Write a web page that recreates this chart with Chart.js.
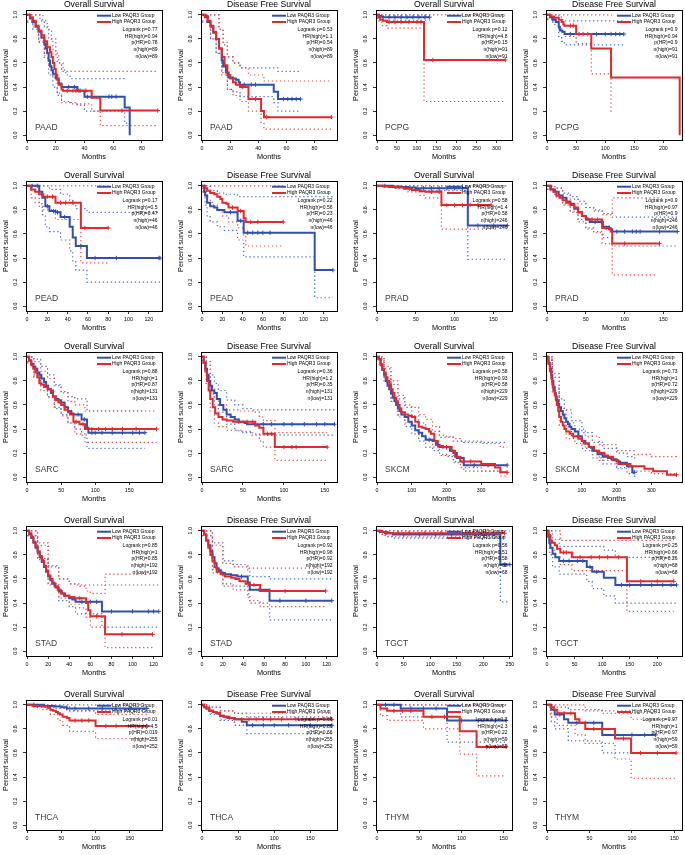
<!DOCTYPE html>
<html><head><meta charset="utf-8">
<script src="https://cdn.jsdelivr.net/npm/chart.js@4.4.1/dist/chart.umd.min.js"></script>
<style>
body{margin:0;width:685px;height:855px;overflow:hidden;background:#fff;position:relative}
canvas{position:absolute}
</style>
</head><body>
<script>
// ---------- data ----------
const CANCERS = ['PAAD','PAAD','PCPG','PCPG','PEAD','PEAD','PRAD','PRAD','SARC','SARC','SKCM','SKCM','STAD','STAD','TGCT','TGCT','THCA','THCA','THYM','THYM'];
const TITLES = ['Overall Survival','Disease Free Survival'];
const LEGEND_LABELS = ['Low PAQR3 Group','High PAQR3 Group'];
const X_MAX  = [94,96,339,232,133,133,174,174,198,165,389,388,128,130,254,245,197,187,160,159];
const X_STEP = [20,20,50,50,20,20,50,50,50,50,100,100,20,20,50,50,50,50,50,50];
const LOGRANK_P = ['0.77','0.53','0.12','0.9','0.17','0.22','0.58','0.9','0.88','0.36','0.58','0.73','0.85','0.92','0.56','0.25','0.01','0.66','0.2','0.97'];
const HR_HIGH   = ['0.94','1.1','4.8','0.94','0.5','0.56','1.4','0.97','1','1.2','0.93','1','1','0.98','0.51','0.66','4.5','0.86','2.3','1'];
const P_HR      = ['0.78','0.54','0.15','0.9','0.47','0.23','0.58','0.9','0.87','0.35','0.58','0.72','0.85','0.92','0.58','0.26','0.019','0.66','0.22','0.97'];
const N_HIGH    = [89,89,91,91,46,46,246,246,131,131,229,229,192,192,68,68,255,255,59,59];
const N_LOW     = [89,89,91,91,46,46,246,246,131,131,229,229,192,192,68,68,252,252,59,59];

// Kaplan-Meier curves: [months, survival]; repeated survival value = censored mark
const PAAD_OS = {
 low:[[0,1],[2,0.97],[4,0.94],[6,0.9],[8,0.86],[10,0.81],[12,0.76],[13,0.72],[14,0.68],[15,0.62],[16,0.57],[17,0.54],[18,0.51],[20,0.47],[22,0.43],[24,0.4],[29,0.4],[33,0.4],[35,0.37],[37,0.37],[40,0.32],[42,0.32],[45,0.32],[57,0.32],[59,0.32],[62,0.32],[68,0.23],[71.5,0]],
 high:[[0,1],[2,0.98],[4,0.95],[6,0.91],[8,0.87],[10,0.83],[12,0.78],[14,0.73],[16,0.69],[17,0.65],[18,0.6],[19,0.55],[20,0.5],[21,0.46],[22,0.42],[24,0.38],[25,0.37],[28,0.37],[32,0.37],[34,0.37],[36,0.37],[41,0.37],[45,0.31],[51,0.205],[66,0.205],[91,0.205]],
 lowUp:[[0,1],[6,1],[9,0.95],[12,0.9],[15,0.8],[18,0.7],[21,0.6],[24,0.54],[27,0.5],[30,0.47],[68,0.47]],
 lowDn:[[0,0.94],[4,0.88],[8,0.77],[12,0.64],[15,0.5],[18,0.4],[21,0.33],[24,0.28],[30,0.27],[35,0.25],[40,0.2],[68,0.1],[71.5,0.1]],
 highUp:[[0,1],[8,1],[11,0.95],[14,0.88],[17,0.8],[20,0.67],[22,0.6],[25,0.53],[91,0.53]],
 highDn:[[0,0.95],[4,0.9],[8,0.78],[12,0.66],[15,0.58],[18,0.48],[21,0.35],[24,0.27],[30,0.26],[45,0.2],[51,0.08],[91,0.08]]
};
const PAAD_DFS = {
 low:[[0,1],[2,0.98],[4,0.94],[6,0.9],[8,0.85],[10,0.8],[12,0.72],[14,0.62],[15,0.57],[17,0.52],[19,0.48],[22,0.47],[24,0.46],[26,0.44],[27,0.42],[30,0.42],[35,0.42],[38,0.42],[51,0.36],[54,0.3],[58,0.3],[61,0.3],[64,0.3],[67,0.3],[70,0.3]],
 high:[[0,1],[2,0.99],[4,0.95],[6,0.91],[8,0.86],[10,0.8],[12,0.72],[14,0.65],[16,0.58],[18,0.5],[20,0.47],[22,0.44],[24,0.42],[27,0.4],[29,0.4],[33,0.3],[38,0.3],[42,0.2],[44,0.15],[46,0.15],[92,0.15]],
 lowUp:[[0,1],[8,1],[12,0.88],[15,0.75],[18,0.65],[22,0.6],[27,0.56],[51,0.56],[54,0.53],[70,0.53]],
 lowDn:[[0,0.94],[6,0.8],[10,0.68],[14,0.5],[18,0.38],[22,0.36],[27,0.32],[51,0.27],[54,0.2],[70,0.2]],
 highUp:[[0,1],[8,1],[12,0.88],[15,0.77],[18,0.65],[22,0.6],[27,0.56],[33,0.5],[44,0.45],[92,0.45]],
 highDn:[[0,0.95],[6,0.8],[10,0.68],[14,0.52],[18,0.38],[22,0.33],[27,0.28],[33,0.2],[42,0.1],[44,0.05],[92,0.05]]
};
const PCPG_OS = {
 low:[[0,1],[5,0.99],[10,0.985],[15,0.98],[30,0.98],[45,0.98],[60,0.98],[75,0.98],[90,0.98],[105,0.98],[120,0.98],[132,0.98]],
 high:[[0,1],[3,0.98],[8,0.96],[15,0.95],[25,0.94],[30,0.94],[45,0.94],[60,0.94],[80,0.94],[100,0.94],[110,0.94],[118,0.625],[140,0.625],[322,0.625]],
 lowUp:[[0,1],[132,1]],
 lowDn:[[0,0.99],[8,0.97],[15,0.955],[132,0.955]],
 highUp:[[0,1],[322,1]],
 highDn:[[0,0.97],[5,0.94],[12,0.91],[25,0.89],[118,0.28],[322,0.28]]
};
const PCPG_DFS = {
 low:[[0,1],[5,0.98],[10,0.96],[15,0.94],[20,0.9],[22,0.87],[26,0.86],[30,0.84],[40,0.84],[55,0.84],[70,0.84],[85,0.84],[100,0.84],[110,0.84],[118,0.84],[125,0.84],[132,0.84]],
 high:[[0,1],[5,0.985],[12,0.975],[20,0.96],[25,0.94],[28,0.92],[30,0.91],[40,0.91],[45,0.91],[50,0.84],[62,0.84],[76,0.72],[110,0.48],[228,0]],
 lowUp:[[0,1],[10,1],[20,0.98],[25,0.96],[30,0.95],[132,0.95]],
 lowDn:[[0,0.96],[10,0.92],[20,0.82],[25,0.78],[30,0.75],[132,0.75]],
 highUp:[[0,1],[112,1]],
 highDn:[[0,0.97],[10,0.94],[20,0.9],[25,0.86],[30,0.82],[50,0.76],[76,0.51],[110,0.2],[112,0.2]]
};
const PEAD_OS = {
 low:[[0,1],[5,1],[10,1],[12,0.95],[15,0.9],[18,0.83],[20,0.83],[22,0.79],[26,0.79],[28,0.78],[30,0.78],[33,0.74],[37,0.74],[42,0.66],[45,0.57],[48,0.5],[53,0.5],[59,0.4],[67,0.4],[88,0.4],[130,0.4],[131,0.4]],
 high:[[0,1],[4,0.97],[8,0.95],[12,0.93],[16,0.91],[20,0.91],[25,0.91],[28,0.86],[33,0.86],[38,0.86],[45,0.86],[53,0.65],[57,0.65],[80,0.65]],
 lowUp:[[0,1],[18,1],[22,0.97],[33,0.93],[42,0.88],[45,0.85],[48,0.81],[59,0.78],[131,0.78]],
 lowDn:[[0,1],[12,0.85],[15,0.76],[18,0.66],[22,0.62],[33,0.55],[42,0.46],[45,0.37],[48,0.3],[59,0.2],[131,0.2]],
 highUp:[[0,1],[80,1]],
 highDn:[[0,1],[4,0.9],[8,0.86],[12,0.83],[16,0.8],[28,0.72],[53,0.36],[80,0.36]]
};
const PEAD_DFS = {
 low:[[0,1],[2,0.95],[3,0.92],[5,0.86],[8,0.83],[12,0.82],[15,0.8],[22,0.78],[28,0.78],[35,0.71],[38,0.71],[41,0.61],[45,0.61],[50,0.61],[55,0.61],[60,0.61],[67,0.61],[111,0.3],[129,0.3]],
 high:[[0,1],[3,0.98],[5,0.96],[8,0.94],[12,0.93],[15,0.91],[18,0.89],[20,0.86],[24,0.85],[26,0.82],[30,0.82],[35,0.79],[38,0.79],[41,0.73],[43,0.7],[48,0.7],[55,0.7],[80,0.7]],
 lowUp:[[0,1],[5,1],[8,0.96],[15,0.94],[22,0.93],[35,0.91],[129,0.91]],
 lowDn:[[0,0.98],[3,0.84],[5,0.75],[8,0.7],[15,0.66],[22,0.63],[35,0.55],[41,0.41],[111,0.07],[129,0.07]],
 highUp:[[0,1],[80,1]],
 highDn:[[0,0.95],[5,0.88],[10,0.84],[15,0.8],[20,0.75],[26,0.7],[35,0.65],[41,0.58],[43,0.5],[80,0.5]]
};
const PRAD_OS = {
 low:[[0,1],[10,1],[20,0.995],[30,0.99],[40,0.985],[50,0.98],[60,0.98],[70,0.98],[80,0.98],[90,0.98],[100,0.98],[110,0.98],[117,0.67],[130,0.67],[150,0.67],[168,0.67]],
 high:[[0,1],[8,0.995],[15,0.99],[25,0.985],[35,0.975],[45,0.965],[55,0.955],[62,0.95],[70,0.95],[80,0.95],[83,0.84],[90,0.84],[100,0.84],[110,0.84],[120,0.84],[130,0.84],[147,0.84]],
 lowUp:[[0,1],[168,1]],
 lowDn:[[0,1],[20,0.98],[40,0.965],[60,0.96],[117,0.39],[168,0.39]],
 highUp:[[0,1],[147,1]],
 highDn:[[0,1],[20,0.98],[40,0.95],[55,0.92],[62,0.9],[83,0.64],[147,0.64]]
};
const PRAD_DFS = {
 low:[[0,1],[5,0.97],[10,0.95],[15,0.92],[20,0.9],[25,0.87],[30,0.85],[35,0.81],[40,0.78],[45,0.75],[50,0.72],[55,0.7],[62,0.7],[70,0.7],[72,0.66],[80,0.64],[84,0.62],[90,0.62],[100,0.62],[110,0.62],[115,0.62],[120,0.62],[145,0.62],[168,0.62]],
 high:[[0,1],[4,0.97],[8,0.95],[12,0.92],[16,0.9],[20,0.88],[25,0.86],[30,0.84],[35,0.82],[40,0.78],[45,0.75],[50,0.73],[52,0.72],[58,0.72],[65,0.72],[71,0.65],[76,0.65],[82,0.62],[84,0.52],[100,0.52],[145,0.52]],
 lowUp:[[0,1],[10,0.98],[20,0.94],[30,0.91],[40,0.87],[50,0.82],[60,0.79],[72,0.77],[84,0.74],[168,0.74]],
 lowDn:[[0,0.97],[10,0.91],[20,0.85],[30,0.79],[40,0.72],[50,0.65],[60,0.62],[72,0.57],[84,0.5],[168,0.5]],
 highUp:[[0,1],[10,0.98],[20,0.93],[30,0.89],[40,0.85],[50,0.82],[60,0.8],[71,0.76],[84,0.9],[145,0.9]],
 highDn:[[0,0.97],[10,0.91],[20,0.84],[30,0.78],[40,0.7],[50,0.64],[60,0.61],[71,0.52],[84,0.26],[140,0.26]]
};
const SARC_OS = {
 low:[[0,1],[3,0.97],[6,0.94],[9,0.92],[12,0.9],[15,0.87],[18,0.85],[21,0.82],[25,0.79],[28,0.76],[31,0.73],[35,0.7],[38,0.67],[42,0.65],[46,0.64],[50,0.62],[55,0.58],[60,0.55],[65,0.53],[68,0.52],[75,0.52],[80,0.48],[84,0.48],[88,0.41],[90,0.37],[95,0.37],[100,0.37],[110,0.37],[125,0.37],[140,0.37],[155,0.37],[165,0.37],[173,0.37]],
 high:[[0,1],[3,0.97],[6,0.93],[9,0.9],[12,0.87],[15,0.83],[18,0.78],[21,0.77],[25,0.75],[30,0.73],[35,0.72],[38,0.67],[42,0.64],[46,0.62],[50,0.6],[55,0.56],[60,0.54],[63,0.52],[68,0.46],[72,0.46],[77,0.44],[82,0.44],[85,0.4],[95,0.4],[105,0.4],[115,0.4],[125,0.4],[140,0.4],[160,0.4],[190,0.4]],
 lowUp:[[0,1],[10,0.98],[20,0.92],[30,0.85],[40,0.77],[50,0.71],[60,0.67],[70,0.65],[88,0.55],[173,0.55]],
 lowDn:[[0,0.96],[10,0.85],[20,0.76],[30,0.67],[40,0.57],[50,0.52],[60,0.45],[70,0.4],[80,0.35],[88,0.24],[173,0.24]],
 highUp:[[0,1],[10,0.96],[20,0.88],[30,0.82],[40,0.76],[50,0.7],[60,0.63],[70,0.6],[85,0.55],[190,0.55]],
 highDn:[[0,0.95],[10,0.83],[20,0.72],[30,0.66],[40,0.58],[50,0.51],[60,0.45],[70,0.36],[85,0.29],[190,0.29]]
};
const SARC_DFS = {
 low:[[0,1],[2,0.95],[4,0.9],[6,0.85],[8,0.8],[10,0.76],[12,0.72],[15,0.7],[18,0.65],[22,0.6],[26,0.56],[30,0.52],[35,0.5],[40,0.48],[45,0.46],[52,0.45],[55,0.44],[65,0.44],[75,0.44],[85,0.44],[100,0.44],[110,0.44],[125,0.44],[140,0.44],[150,0.44],[162,0.44]],
 high:[[0,1],[2,0.95],[4,0.88],[6,0.8],[8,0.72],[10,0.65],[13,0.58],[16,0.53],[20,0.5],[25,0.48],[30,0.47],[38,0.46],[45,0.46],[55,0.46],[62,0.46],[65,0.43],[70,0.41],[75,0.36],[80,0.36],[85,0.36],[89,0.25],[100,0.25],[110,0.25],[115,0.25],[153,0.25]],
 lowUp:[[0,1],[5,0.96],[10,0.85],[15,0.78],[20,0.72],[30,0.64],[40,0.6],[50,0.57],[60,0.56],[162,0.56]],
 lowDn:[[0,0.97],[5,0.84],[10,0.69],[15,0.6],[20,0.54],[30,0.44],[40,0.39],[50,0.37],[60,0.35],[162,0.35]],
 highUp:[[0,1],[5,0.93],[10,0.75],[15,0.65],[20,0.6],[30,0.56],[45,0.55],[62,0.54],[70,0.5],[75,0.47],[89,0.37],[153,0.37]],
 highDn:[[0,0.95],[5,0.78],[10,0.55],[15,0.45],[20,0.42],[30,0.39],[45,0.38],[62,0.36],[70,0.3],[75,0.25],[89,0.14],[153,0.14]]
};
const SKCM_OS = {
 low:[[0,1],[5,0.98],[10,0.93],[15,0.89],[20,0.85],[25,0.8],[30,0.76],[35,0.73],[40,0.7],[45,0.66],[50,0.63],[55,0.6],[60,0.57],[65,0.55],[70,0.52],[80,0.5],[90,0.46],[100,0.43],[110,0.39],[120,0.37],[130,0.34],[140,0.31],[150,0.31],[160,0.3],[170,0.27],[180,0.25],[190,0.25],[200,0.25],[210,0.22],[220,0.2],[230,0.16],[250,0.1],[280,0.1],[320,0.1],[375,0.1]],
 high:[[0,1],[5,0.98],[10,0.94],[15,0.9],[20,0.87],[25,0.83],[30,0.8],[35,0.77],[40,0.73],[45,0.7],[50,0.66],[55,0.63],[60,0.6],[65,0.57],[70,0.54],[80,0.52],[90,0.51],[100,0.5],[110,0.46],[120,0.42],[130,0.41],[140,0.4],[150,0.38],[155,0.36],[165,0.3],[175,0.26],[190,0.25],[200,0.25],[215,0.22],[225,0.17],[240,0.13],[270,0.13],[300,0.11],[340,0.08],[355,0.04],[375,0.04]],
 lowUp:[[0,1],[20,0.9],[40,0.77],[60,0.65],[80,0.58],[100,0.51],[120,0.45],[140,0.4],[160,0.38],[180,0.33],[200,0.33],[220,0.3],[250,0.29],[370,0.29]],
 lowDn:[[0,0.98],[20,0.79],[40,0.63],[60,0.5],[80,0.42],[100,0.36],[120,0.3],[140,0.25],[160,0.22],[180,0.18],[200,0.17],[220,0.12],[250,0.05],[370,0.05]],
 highUp:[[0,1],[20,0.92],[40,0.8],[60,0.68],[80,0.6],[100,0.58],[120,0.52],[140,0.48],[160,0.42],[180,0.35],[200,0.34],[220,0.32],[240,0.3],[300,0.28],[355,0.25],[375,0.25]],
 highDn:[[0,0.98],[20,0.82],[40,0.66],[60,0.52],[80,0.45],[100,0.43],[120,0.35],[140,0.32],[160,0.25],[180,0.19],[200,0.18],[220,0.13],[240,0.08],[300,0.05],[355,0.01],[375,0.01]]
};
const SKCM_DFS = {
 low:[[0,1],[4,0.95],[8,0.9],[12,0.85],[15,0.8],[18,0.75],[22,0.7],[25,0.67],[28,0.64],[32,0.61],[35,0.58],[40,0.55],[45,0.52],[50,0.49],[55,0.46],[60,0.44],[65,0.42],[70,0.4],[80,0.38],[90,0.34],[100,0.3],[110,0.28],[120,0.25],[130,0.22],[145,0.19],[160,0.17],[175,0.16],[185,0.15],[200,0.13],[210,0.12],[230,0.09],[245,0.04],[252,0.04]],
 high:[[0,1],[4,0.94],[8,0.88],[12,0.82],[15,0.77],[18,0.72],[22,0.68],[25,0.64],[28,0.6],[32,0.55],[35,0.5],[40,0.46],[45,0.43],[50,0.4],[55,0.38],[65,0.36],[75,0.34],[90,0.32],[100,0.3],[105,0.28],[120,0.25],[135,0.22],[150,0.2],[165,0.18],[175,0.17],[190,0.14],[205,0.11],[240,0.09],[280,0.07],[305,0.05],[345,0.02],[372,0.02]],
 lowUp:[[0,1],[15,0.86],[35,0.65],[50,0.56],[70,0.47],[100,0.37],[130,0.29],[160,0.24],[200,0.2],[230,0.17],[252,0.15]],
 lowDn:[[0,0.98],[15,0.74],[35,0.51],[50,0.42],[70,0.33],[100,0.24],[130,0.16],[160,0.11],[200,0.07],[230,0.03],[252,0.0]],
 highUp:[[0,1],[15,0.83],[35,0.57],[55,0.45],[80,0.4],[110,0.34],[150,0.27],[200,0.22],[250,0.19],[300,0.17],[372,0.15]],
 highDn:[[0,0.97],[15,0.7],[35,0.43],[55,0.32],[80,0.28],[110,0.22],[150,0.14],[200,0.08],[250,0.05],[300,0.03],[372,0.0]]
};
const STAD_OS = {
 low:[[0,1],[2,0.97],[4,0.94],[6,0.9],[8,0.86],[10,0.82],[12,0.78],[14,0.74],[16,0.7],[18,0.66],[20,0.62],[22,0.59],[24,0.56],[27,0.53],[30,0.5],[33,0.48],[36,0.46],[40,0.44],[43,0.43],[46,0.41],[52,0.41],[60,0.41],[66,0.41],[71,0.33],[80,0.33],[100,0.33],[115,0.33],[120,0.33],[125,0.33]],
 high:[[0,1],[2,0.98],[4,0.95],[6,0.91],[8,0.87],[10,0.83],[12,0.79],[14,0.75],[16,0.71],[18,0.67],[20,0.63],[22,0.6],[24,0.57],[26,0.54],[29,0.51],[32,0.48],[35,0.46],[40,0.45],[45,0.44],[50,0.44],[56,0.4],[58,0.34],[60,0.29],[66,0.29],[74,0.14],[90,0.14],[119,0.14]],
 lowUp:[[0,1],[10,0.88],[20,0.7],[30,0.6],[40,0.56],[46,0.55],[125,0.55]],
 lowDn:[[0,0.96],[10,0.76],[20,0.55],[30,0.42],[40,0.37],[46,0.31],[71,0.2],[125,0.2]],
 highUp:[[0,1],[10,0.9],[20,0.71],[30,0.6],[40,0.56],[50,0.54],[56,0.5],[60,0.48],[74,0.64],[119,0.64]],
 highDn:[[0,0.96],[10,0.77],[20,0.56],[30,0.44],[40,0.39],[50,0.36],[56,0.28],[60,0.2],[74,0.03],[119,0.03]]
};
const STAD_DFS = {
 low:[[0,1],[2,0.97],[4,0.92],[6,0.88],[8,0.83],[10,0.78],[12,0.73],[14,0.69],[16,0.67],[18,0.65],[22,0.64],[28,0.63],[34,0.62],[38,0.62],[44,0.57],[46,0.51],[55,0.51],[65,0.42],[75,0.42],[100,0.42],[125,0.42]],
 high:[[0,1],[2,0.97],[4,0.92],[6,0.86],[8,0.8],[10,0.75],[12,0.7],[14,0.66],[18,0.64],[22,0.62],[28,0.61],[32,0.6],[36,0.58],[42,0.56],[45,0.55],[50,0.55],[56,0.5],[65,0.5],[80,0.5],[119,0.5]],
 lowUp:[[0,1],[10,0.9],[20,0.75],[30,0.72],[44,0.66],[46,0.62],[65,0.6],[125,0.6]],
 lowDn:[[0,0.96],[10,0.68],[20,0.56],[30,0.54],[44,0.47],[46,0.4],[65,0.26],[125,0.26]],
 highUp:[[0,1],[10,0.88],[20,0.73],[30,0.7],[45,0.69],[119,0.69]],
 highDn:[[0,0.96],[10,0.65],[20,0.54],[30,0.51],[45,0.42],[56,0.37],[119,0.37]]
};
const TGCT_OS = {
 low:[[0,1],[5,0.99],[15,0.98],[30,0.97],[50,0.97],[80,0.97],[110,0.97],[140,0.97],[170,0.97],[200,0.97],[220,0.97],[232,0.72],[240,0.72],[250,0.72]],
 high:[[0,1],[10,0.99],[20,0.98],[40,0.98],[60,0.98],[90,0.98],[120,0.98],[150,0.98],[180,0.98],[200,0.98],[240,0.98]],
 lowUp:[[0,1],[250,1]],
 lowDn:[[0,1],[5,0.97],[15,0.955],[30,0.94],[232,0.41],[250,0.41]],
 highUp:[[0,1],[240,1]],
 highDn:[[0,1],[10,0.97],[20,0.95],[240,0.95]]
};
const TGCT_DFS = {
 low:[[0,1],[2,0.95],[4,0.9],[6,0.86],[10,0.81],[15,0.78],[22,0.75],[30,0.75],[40,0.75],[55,0.75],[65,0.75],[72,0.7],[78,0.7],[82,0.66],[90,0.66],[103,0.61],[124,0.55],[135,0.55],[150,0.55],[170,0.55],[190,0.55],[210,0.55],[225,0.55],[235,0.55]],
 high:[[0,1],[3,0.96],[6,0.92],[9,0.9],[14,0.88],[18,0.85],[24,0.82],[30,0.82],[35,0.82],[45,0.78],[60,0.78],[80,0.78],[95,0.78],[110,0.78],[130,0.78],[145,0.58],[170,0.58],[200,0.58],[230,0.58]],
 lowUp:[[0,1],[10,0.93],[22,0.87],[82,0.87],[103,0.84],[124,0.78],[235,0.78]],
 lowDn:[[0,0.97],[5,0.8],[10,0.7],[22,0.64],[72,0.58],[82,0.52],[103,0.46],[124,0.4],[235,0.4]],
 highUp:[[0,1],[10,1],[24,0.92],[230,0.92]],
 highDn:[[0,0.98],[6,0.85],[14,0.78],[24,0.72],[45,0.67],[145,0.33],[230,0.33]]
};
const THCA_OS = {
 low:[[0,1],[10,1],[25,0.99],[40,0.985],[50,0.98],[58,0.97],[70,0.97],[90,0.97],[110,0.97],[130,0.97],[150,0.97],[175,0.97]],
 high:[[0,1],[8,0.99],[15,0.99],[22,0.985],[30,0.975],[34,0.96],[38,0.95],[42,0.94],[45,0.93],[48,0.92],[52,0.9],[58,0.89],[62,0.87],[70,0.87],[80,0.87],[90,0.87],[100,0.825],[115,0.825],[130,0.825],[175,0.825]],
 lowUp:[[0,1],[175,1]],
 lowDn:[[0,1],[25,0.98],[40,0.97],[58,0.95],[175,0.95]],
 highUp:[[0,1],[40,0.99],[62,0.95],[100,0.92],[175,0.92]],
 highDn:[[0,1],[10,0.98],[22,0.96],[34,0.92],[45,0.87],[52,0.83],[62,0.78],[100,0.72],[175,0.72]]
};
const THCA_DFS = {
 low:[[0,1],[3,0.98],[6,0.97],[10,0.95],[15,0.94],[20,0.93],[25,0.91],[30,0.9],[35,0.89],[45,0.88],[55,0.86],[62,0.83],[70,0.83],[85,0.83],[100,0.83],[120,0.83],[150,0.83],[180,0.83]],
 high:[[0,1],[3,0.98],[6,0.97],[10,0.95],[15,0.94],[20,0.93],[25,0.91],[30,0.9],[38,0.89],[45,0.88],[55,0.88],[65,0.88],[75,0.88],[85,0.88],[95,0.88],[110,0.88],[130,0.88],[150,0.88],[180,0.88]],
 lowUp:[[0,1],[10,0.98],[25,0.95],[45,0.93],[62,0.9],[180,0.9]],
 lowDn:[[0,0.99],[10,0.92],[25,0.87],[45,0.83],[62,0.76],[180,0.76]],
 highUp:[[0,1],[10,0.98],[25,0.95],[45,0.93],[180,0.93]],
 highDn:[[0,0.99],[10,0.93],[25,0.88],[45,0.83],[180,0.83]]
};
const THYM_OS = {
 low:[[0,1],[10,1],[20,1],[28,0.97],[40,0.97],[55,0.97],[70,0.97],[83,0.87],[100,0.87],[120,0.87],[140,0.87],[153,0.87]],
 high:[[0,1],[4,0.97],[12,0.95],[20,0.95],[30,0.95],[40,0.95],[55,0.9],[65,0.9],[80,0.9],[98,0.78],[118,0.65],[130,0.65],[140,0.65],[153,0.65]],
 lowUp:[[0,1],[153,1]],
 lowDn:[[0,1],[28,0.9],[83,0.69],[153,0.69]],
 highUp:[[0,1],[153,1]],
 highDn:[[0,1],[4,0.91],[12,0.87],[55,0.8],[98,0.59],[118,0.41],[153,0.41]]
};
const THYM_DFS = {
 low:[[0,1],[5,0.96],[9,0.92],[15,0.92],[20,0.88],[25,0.85],[35,0.85],[45,0.85],[55,0.85],[65,0.75],[80,0.75],[100,0.75],[115,0.75],[128,0.75]],
 high:[[0,1],[4,0.98],[8,0.96],[12,0.93],[20,0.93],[28,0.93],[33,0.88],[38,0.85],[45,0.8],[55,0.8],[65,0.8],[80,0.72],[90,0.72],[99,0.6],[110,0.6],[130,0.6],[152,0.6]],
 lowUp:[[0,1],[9,0.98],[25,0.96],[65,0.93],[128,0.93]],
 lowDn:[[0,1],[5,0.86],[9,0.8],[25,0.7],[65,0.6],[128,0.6]],
 highUp:[[0,1],[33,1],[45,0.95],[80,0.95],[99,0.88],[152,0.88]],
 highDn:[[0,1],[4,0.9],[12,0.83],[33,0.75],[45,0.68],[80,0.55],[99,0.39],[152,0.39]]
};
const CURVES = [PAAD_OS,PAAD_DFS,PCPG_OS,PCPG_DFS,PEAD_OS,PEAD_DFS,PRAD_OS,PRAD_DFS,SARC_OS,SARC_DFS,SKCM_OS,SKCM_DFS,STAD_OS,STAD_DFS,TGCT_OS,TGCT_DFS,THCA_OS,THCA_DFS,THYM_OS,THYM_DFS];

// ---------- layout / style ----------
const FONT = '"Liberation Sans", Arial, Helvetica, sans-serif';
const COL_LEFT = [-1,174,349,519];
const ROW_TOP = [0,171,342,516,690];
const BLUE = '#3050b0', RED = '#e3292b', BLUE_CI = '#4a6cd0', RED_CI = '#ef4a4a';

function makePanel(i){
  const d = CURVES[i];
  const cv = document.createElement('canvas');
  cv.width = 171; cv.height = 171;
  cv.style.left = COL_LEFT[i%4]+'px';
  cv.style.top = ROW_TOP[Math.floor(i/4)]+'px';
  document.body.appendChild(cv);
  const pts = a => a.map(p => ({x:p[0], y:p[1]}));
  const main = (arr, color, order) => ({
    data: pts(arr), borderColor: color, backgroundColor: color, borderWidth: 2, stepped: 'before',
    fill: false, order, pointStyle: 'cross', pointBorderColor: color, pointBorderWidth: 1,
    pointRadius: c => { const j = c.dataIndex; return (j > 0 && arr[j][1] === arr[j-1][1]) ? 2.2 : 0; },
    pointHoverRadius: 0
  });
  const ci = (arr, color) => ({
    data: pts(arr), borderColor: color, borderWidth: 1.2, borderDash: [1.3, 2.7], stepped: 'before',
    fill: false, pointRadius: 0, order: 5
  });
  const stats = ['Logrank p='+LOGRANK_P[i], 'HR(high)='+HR_HIGH[i], 'p(HR)='+P_HR[i], 'n(high)='+N_HIGH[i], 'n(low)='+N_LOW[i]];
  const title = TITLES[i%2];
  const deco = {
    id: 'deco',
    afterDatasetsDraw(chart){
      const c = chart.ctx, a = chart.chartArea, R = a.right, T = a.top;
      c.save();
      c.fillStyle = '#3a3a3a'; c.font = '8.5px '+FONT; c.textAlign = 'left'; c.textBaseline = 'middle';
      c.fillText(CANCERS[i], a.left + 9, a.bottom - 12);
      c.lineWidth = 2;
      [[BLUE, T+5.7],[RED, T+12]].forEach(([col,y],k) => {
        c.strokeStyle = col; c.beginPath(); c.moveTo(R-65, y); c.lineTo(R-51, y); c.stroke();
        c.fillStyle = '#000'; c.font = '5px '+FONT; c.textAlign = 'left'; c.textBaseline = 'middle';
        c.fillText(LEGEND_LABELS[k], R-50, y);
      });
      c.textAlign = 'right';
      stats.forEach((s,k) => c.fillText(s, R-4.5, T + 19.3 + k*6.85));
      c.restore();
    },
    afterDraw(chart){
      const c = chart.ctx, a = chart.chartArea;
      c.save();
      c.strokeStyle = '#000'; c.lineWidth = 1;
      c.strokeRect(Math.round(a.left)+0.5, Math.round(a.top)+0.5, Math.round(a.right-a.left), Math.round(a.bottom-a.top));
      c.fillStyle = '#000';
      c.textAlign = 'center'; c.textBaseline = 'middle';
      c.font = '8.6px '+FONT;
      c.fillText(title, (a.left+a.right)/2, 5);
      c.font = '7.3px '+FONT;
      c.fillText('Months', (a.left+a.right)/2, a.bottom + 17);
      c.save(); c.translate(7, (a.top+a.bottom)/2); c.rotate(-Math.PI/2); c.fillText('Percent survival', 0, 0); c.restore();
      c.font = '5.3px '+FONT;
      const ys = chart.scales.y, xs = chart.scales.x;
      ys.ticks.forEach(t => {
        const y = ys.getPixelForValue(t.value);
        c.save(); c.translate(a.left - 10.5, y); c.rotate(-Math.PI/2); c.fillText(t.value.toFixed(1), 0, 0); c.restore();
      });
      xs.ticks.forEach(t => {
        c.fillText(String(Math.round(t.value)), xs.getPixelForValue(t.value), a.bottom + 8.5);
      });
      c.restore();
    }
  };
  const gridOpts = {display: true, drawOnChartArea: false, drawTicks: true, tickLength: 3, color: '#000', lineWidth: 0.8};
  const stepTicks = (scale, step) => {
    const out = [];
    for (let v = 0; v <= scale.max + 1e-9; v = Math.round((v + step) * 1000) / 1000) out.push({value: v});
    scale.ticks = out;
  };
  new Chart(cv, {
    type: 'line',
    data: { datasets: [
      main(d.high, RED, 0), main(d.low, BLUE, 1),
      ci(d.highUp, RED_CI), ci(d.highDn, RED_CI), ci(d.lowUp, BLUE_CI), ci(d.lowDn, BLUE_CI)
    ]},
    options: {
      responsive: false, animation: false, devicePixelRatio: 1,
      layout: { padding: {top: 10, left: 0, right: 8, bottom: 0} },
      plugins: { legend: {display: false}, title: {display: false}, tooltip: {enabled: false} },
      events: [],
      scales: {
        x: { type: 'linear', min: -X_MAX[i]*0.008, max: X_MAX[i],
             afterFit: s => { s.height = 31; },
             afterBuildTicks: s => stepTicks(s, X_STEP[i]),
             ticks: { display: false, autoSkip: false },
             grid: gridOpts, border: {display: false} },
        y: { type: 'linear', min: -0.04, max: 1.04,
             afterFit: s => { s.width = 27; },
             afterBuildTicks: s => stepTicks(s, 0.2),
             ticks: { display: false },
             grid: gridOpts, border: {display: false} }
      }
    },
    plugins: [deco]
  });
}
for (let i = 0; i < CURVES.length; i++) makePanel(i);
</script>
</body></html>
